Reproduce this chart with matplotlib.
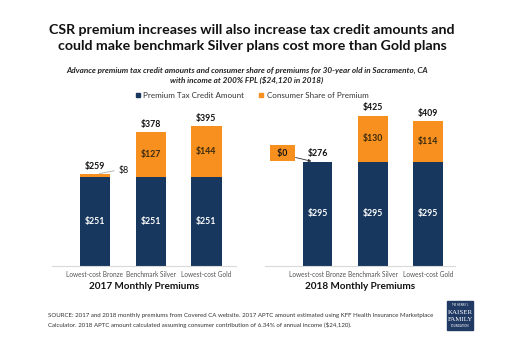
import matplotlib.pyplot as plt
from matplotlib.patches import Rectangle

plt.rcParams['font.family'] = ['Lato', 'DejaVu Sans']

plans = ['Lowest-cost Bronze', 'Benchmark Silver', 'Lowest-cost Gold']
credit_2017 = [251, 251, 251]
consumer_2017 = [8, 127, 144]
total_2017 = [259, 378, 395]
credit_2018 = [295, 295, 295]
consumer_2018 = [0, 130, 114]
total_2018 = [276, 425, 409]

NAVY = '#17375e'
ORANGE = '#f7901e'
W, H = 520, 346


def fx(x):
    return x / W


def fy(y):
    return 1 - y / H


fig = plt.figure(figsize=(5.2, 3.46), dpi=100)

# titles
fig.text(fx(252), fy(30), 'CSR premium increases will also increase tax credit amounts and',
         ha='center', va='center', fontsize=10.2, fontweight='bold', color='#111111')
fig.text(fx(252), fy(46), 'could make benchmark Silver plans cost more than Gold plans',
         ha='center', va='center', fontsize=10.2, fontweight='bold', color='#111111')
fig.text(fx(247), fy(70), 'Advance premium tax credit amounts and consumer share of premiums for 30-year old in Sacramento, CA',
         ha='center', va='center', fontsize=5.9, fontweight='bold', style='italic', color='#222222')
fig.text(fx(247), fy(80), 'with income at 200% FPL ($24,120 in 2018)',
         ha='center', va='center', fontsize=5.9, fontweight='bold', style='italic', color='#222222')

# legend
fig.patches.append(Rectangle((fx(135.5), fy(97.5)), 4 / W, 4 / H, transform=fig.transFigure,
                             color=NAVY))
fig.text(fx(143), fy(95.5), 'Premium Tax Credit Amount', ha='left', va='center',
         fontsize=5.8, color='#333333')
fig.patches.append(Rectangle((fx(258.5), fy(97.5)), 4 / W, 4 / H, transform=fig.transFigure,
                             color=ORANGE))
fig.text(fx(267), fy(95.5), 'Consumer Share of Premium', ha='left', va='center',
         fontsize=5.8, color='#333333')

base = 265.7
scale = 0.353
top = base - 450 * scale

panels = [
    ((52, 236), (-0.77, 2.53), credit_2017, consumer_2017, total_2017, '2017 Monthly Premiums'),
    ((265, 455), (-0.95, 2.49), credit_2018, consumer_2018, total_2018, '2018 Monthly Premiums'),
]

axes = []
for (x0, x1), xlim, credit, consumer, total, label in panels:
    ax = fig.add_axes([fx(x0), fy(base), (x1 - x0) / W, (base - top) / H])
    axes.append(ax)
    ax.set_xlim(*xlim)
    ax.set_ylim(0, 450)
    xs = range(len(plans))
    ax.bar(xs, credit, width=0.54, color=NAVY, zorder=2)
    ax.bar(xs, consumer, bottom=credit, width=0.54, color=ORANGE, zorder=2)
    for i in xs:
        ax.text(i, credit[i] / 2, f'${credit[i]}', ha='center', va='center',
                color='white', fontsize=6.3, fontweight='bold')
        if consumer[i] > 20:
            ax.text(i, credit[i] + consumer[i] / 2, f'${consumer[i]}', ha='center',
                    va='center', color='#3a2a10', fontsize=6.3, fontweight='bold')
        ax.text(i, credit[i] + consumer[i] + 22, f'${total[i]}', ha='center', va='center',
                color='#111111', fontsize=6.3, fontweight='bold')
    ax.set_xticks(list(xs))
    ax.set_xticklabels(plans, fontsize=4.7, color='#555555')
    ax.tick_params(axis='x', length=0, pad=4)
    ax.set_yticks([])
    for s in ['top', 'right', 'left']:
        ax.spines[s].set_visible(False)
    ax.spines['bottom'].set_color('#d9d9d9')
    ax.spines['bottom'].set_linewidth(0.8)
    ax.set_xlabel(label, fontsize=7.2, fontweight='bold', color='#111111', labelpad=3)

# 2017 bronze: small consumer share called out to the side
ax = axes[0]
b_top = credit_2017[0] + consumer_2017[0]
ax.annotate(f'${consumer_2017[0]}', xy=(0.08, b_top + 2), xytext=(0.42, b_top + 12),
            ha='left', va='center', fontsize=6.3, color='#111111',
            arrowprops=dict(arrowstyle='-', color='#aaaaaa', lw=0.6, shrinkA=1, shrinkB=0,
                            relpos=(0, 0.5)))

# 2018 bronze: $0 consumer share box pointing to the bar
ax = axes[1]
ax.annotate(f'  ${consumer_2018[0]}  ', xy=(-0.11, credit_2018[0] + 1), xytext=(-0.63, credit_2018[0] + 24),
            ha='center', va='center', fontsize=6.3, fontweight='bold', color='#111111',
            bbox=dict(boxstyle='square,pad=0.4', fc=ORANGE, ec='none'),
            arrowprops=dict(arrowstyle='-|>', color='#333333', lw=0.6, mutation_scale=4,
                            shrinkA=0, shrinkB=0, relpos=(1, 0.1)))

# source note
fig.text(fx(48), fy(316), 'SOURCE: 2017 and 2018 monthly premiums from Covered CA website. 2017 APTC amount estimated using KFF Health Insurance Marketplace',
         ha='left', va='center', fontsize=4.4, color='#333333')
fig.text(fx(48), fy(325), 'Calculator. 2018 APTC amount calculated assuming consumer contribution of 6.34% of annual income ($24,120).',
         ha='left', va='center', fontsize=4.4, color='#333333')

# foundation logo
fig.patches.append(Rectangle((fx(447), fy(330)), 26 / W, 29 / H, transform=fig.transFigure,
                             color='#203a63'))
fig.text(fx(460), fy(305), 'THE HENRY J.', ha='center', va='center', fontsize=2.0, color='white')
fig.text(fx(460), fy(312), 'KAISER', ha='center', va='center', fontsize=5.0, color='white',
         family='Liberation Serif')
fig.text(fx(460), fy(319.5), 'FAMILY', ha='center', va='center', fontsize=5.0, color='white',
         family='Liberation Serif')
fig.text(fx(460), fy(326), 'FOUNDATION', ha='center', va='center', fontsize=2.0, color='white')

fig.savefig('out.png', dpi=100, facecolor='white')
